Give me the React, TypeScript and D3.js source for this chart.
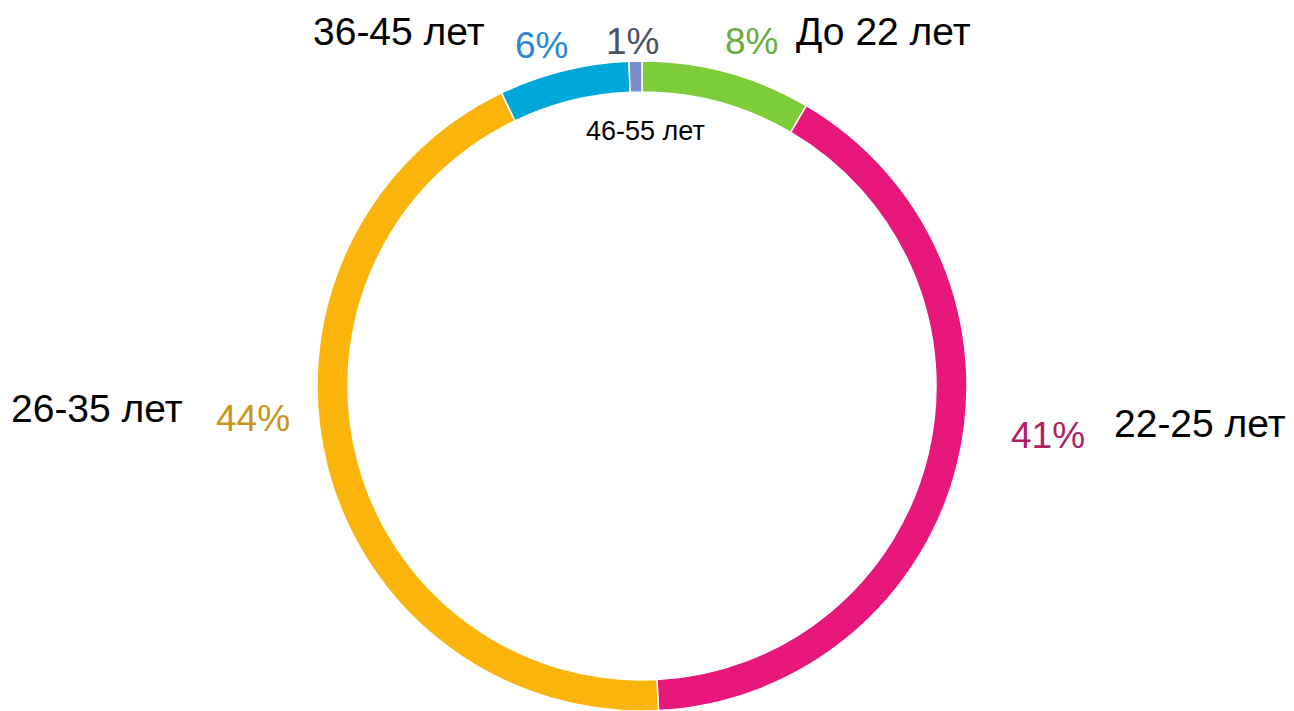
import React from "react";
import * as d3 from "d3";

const categories = ["До 22 лет", "22-25 лет", "26-35 лет", "36-45 лет", "46-55 лет"];
const values = [8.44, 40.75, 43.7, 6.47, 0.64];
const sliceColors = ["#7dcd3b", "#e8177b", "#fbb40c", "#00a8d9", "#7b8ecb"];
const pctColors = ["#6aac3e", "#b01f63", "#c8961a", "#2b87d3", "#4b5262"];

// label layout (absolute page coords): x, baseline y, font size
const catLabelPos: [number, number, number][] = [
  [796, 45, 39],
  [1114, 437, 39],
  [11, 422, 39],
  [313, 45, 39],
  [586, 140, 27],
];
const pctLabelPos: [number, number][] = [
  [725, 54],
  [1011, 448],
  [216, 431],
  [515, 58],
  [606, 54],
];

const W = 1294;
const H = 711;
const cx = 642;
const cy = 386;
const outerR = 325;
const innerR = 294;

export default function App() {
  const data = categories.map((c, i) => ({ c, v: values[i], i }));
  const pie = d3.pie<any>().value((d) => d.v).sort(null).startAngle(0).endAngle(2 * Math.PI);
  const arcs = pie(data);
  const arc = d3.arc<any>().innerRadius(innerR).outerRadius(outerR);
  const fmt = (v: number) => `${Math.round(v)}%`;
  return (
    <svg
      width={W}
      height={H}
      style={{ position: "absolute", left: 0, top: 0, display: "block", background: "#fff" }}
      fontFamily="'Liberation Sans', Arial, sans-serif"
    >
      <g transform={`translate(${cx},${cy})`}>
        {arcs.map((a, i) => (
          <path key={i} d={arc(a) as string} fill={sliceColors[i]} stroke="#ffffff" strokeWidth={1.5} />
        ))}
      </g>
      {categories.map((c, i) => (
        <text key={"c" + i} x={catLabelPos[i][0]} y={catLabelPos[i][1]} fontSize={catLabelPos[i][2]} fill="#000">
          {c}
        </text>
      ))}
      {values.map((v, i) => (
        <text key={"p" + i} x={pctLabelPos[i][0]} y={pctLabelPos[i][1]} fontSize={37} fill={pctColors[i]}>
          {fmt(v)}
        </text>
      ))}
    </svg>
  );
}
